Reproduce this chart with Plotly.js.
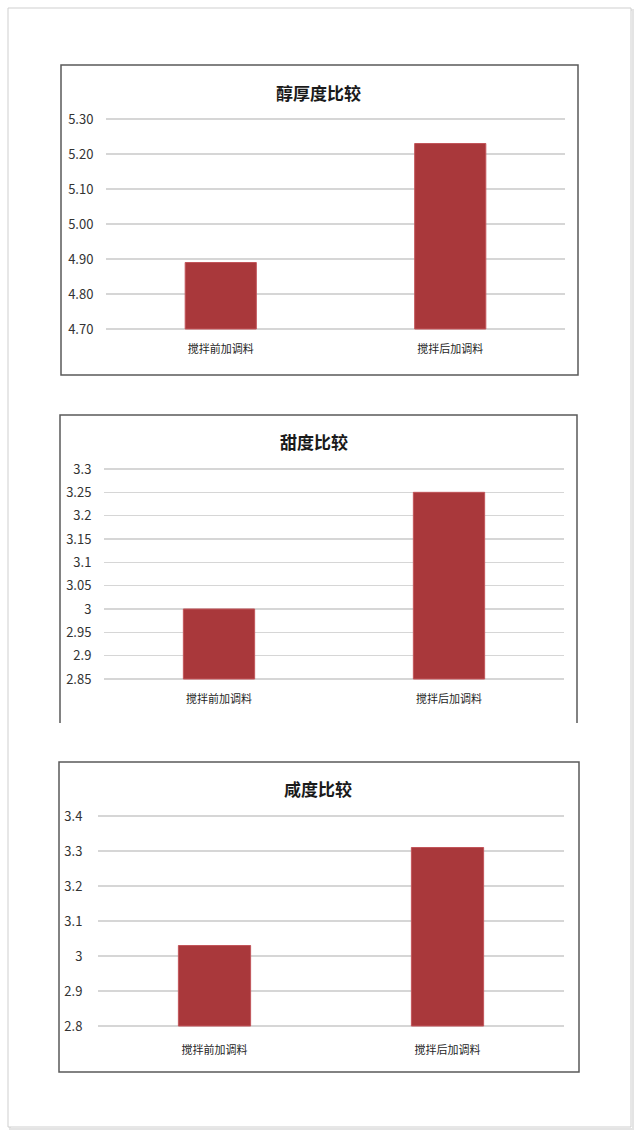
<!DOCTYPE html>
<html>
<head>
<meta charset="utf-8">
<script src="https://cdn.plot.ly/plotly-3.0.1.min.js"></script>
<style>
  html, body { margin: 0; padding: 0; background: #fff; }
  #chart { width: 640px; height: 1136px; }
</style>
</head>
<body>
<div id="chart"></div>
<script>
// Data
const categories = ['搅拌前加调料', '搅拌后加调料'];

const titles = ['醇厚度比较', '甜度比较', '咸度比较'];

const bodyValues = [4.89, 5.23];     // 醇厚度
const sweetValues = [3.00, 3.25];    // 甜度
const saltValues = [3.03, 3.31];     // 咸度

const bodyTicks = [4.70, 4.80, 4.90, 5.00, 5.10, 5.20, 5.30];
const sweetTicks = [2.85, 2.9, 2.95, 3, 3.05, 3.1, 3.15, 3.2, 3.25, 3.3];
const saltTicks = [2.8, 2.9, 3, 3.1, 3.2, 3.3, 3.4];

const bodyTickText = bodyTicks.map(v => v.toFixed(2));

// page geometry helpers (pixels -> paper fraction)
const W = 640, H = 1136;
const px = x => x / W;
const py = y => 1 - y / H;

const barColor = '#a9383b';
const gridColor = '#d6d6d6';
const font = 'Noto Sans CJK SC, Noto Sans, sans-serif';

// the range gets a little padding so the top and bottom gridlines are not
// dropped at the plot edge; the domain is widened by the same amount
const PAD = 0.025;

// bars start at the lowest tick (axis minimum), as in the original
function barTrace(values, ticks, n) {
    const base = ticks[0];
    return {
        type: 'bar',
        x: categories,
        y: values.map(v => v - base),
        base: base,
        customdata: values,
        xaxis: 'x' + (n === 1 ? '' : n),
        yaxis: 'y' + (n === 1 ? '' : n),
        marker: {color: barColor, line: {color: '#c2555a', width: 1}},
        hovertemplate: '%{x}: %{customdata}<extra></extra>'
    };
}

const data = [
    barTrace(bodyValues, bodyTicks, 1),
    barTrace(sweetValues, sweetTicks, 2),
    barTrace(saltValues, saltTicks, 3)
];

function xAxis(domain, anchor, ticklen) {
    return {
        domain: domain,
        anchor: anchor,
        type: 'category',
        showgrid: false,
        showline: false,
        zeroline: false,
        ticks: 'outside',
        ticklen: ticklen,
        tickcolor: 'rgba(0,0,0,0)',
        tickfont: {family: font, size: 11, color: '#262626'},
        fixedrange: true
    };
}

// top / bottom are the pixel rows of the highest and lowest tick
function yAxis(top, bottom, anchor, ticks, ticktext, ticklen) {
    const lo = ticks[0], hi = ticks[ticks.length - 1];
    const span = hi - lo, padPx = (bottom - top) * PAD;
    const ax = {
        domain: [py(bottom + padPx), py(top - padPx)],
        anchor: anchor,
        range: [lo - span * PAD, hi + span * PAD],
        tickmode: 'array',
        tickvals: ticks,
        showgrid: true,
        gridcolor: gridColor,
        gridwidth: 1.5,
        showline: false,
        zeroline: false,
        ticks: 'outside',
        ticklen: ticklen,
        tickcolor: 'rgba(0,0,0,0)',
        tickfont: {family: font, size: 13, color: '#333333'},
        fixedrange: true
    };
    if (ticktext) ax.ticktext = ticktext;
    return ax;
}

const layout = {
    width: W,
    height: H,
    margin: {l: 0, r: 0, t: 0, b: 0},
    paper_bgcolor: 'white',
    plot_bgcolor: 'white',
    showlegend: false,
    bargap: 0.69,
    font: {family: font},

    xaxis: xAxis([px(106), px(565)], 'y', 5),
    yaxis: yAxis(119, 329, 'x', bodyTicks, bodyTickText, 9),

    xaxis2: xAxis([px(104), px(564)], 'y2', 5),
    yaxis2: yAxis(469, 679, 'x2', sweetTicks, null, 9),

    xaxis3: xAxis([px(98), px(564)], 'y3', 9),
    yaxis3: yAxis(816, 1026, 'x3', saltTicks, null, 12),

    annotations: [
        {text: titles[0], x: px(318), y: py(92)},
        {text: titles[1], x: px(314), y: py(441)},
        {text: titles[2], x: px(318), y: py(788)}
    ].map(a => Object.assign(a, {
        xref: 'paper', yref: 'paper',
        xanchor: 'center', yanchor: 'middle',
        showarrow: false,
        font: {family: font, size: 17, color: '#1a1a1a', weight: 'bold'}
    })),

    shapes: [
        // outer photo frame with soft shadow
        {type: 'rect', xref: 'paper', yref: 'paper',
         x0: px(10), x1: px(633), y0: py(1129), y1: py(10),
         line: {color: '#e4e4e4', width: 2}, layer: 'below'},
        {type: 'rect', xref: 'paper', yref: 'paper',
         x0: px(8), x1: px(631), y0: py(1127), y1: py(8),
         line: {color: '#cfcfcf', width: 1}, fillcolor: 'white', layer: 'below'},
        // chart borders
        {type: 'rect', xref: 'paper', yref: 'paper',
         x0: px(61), x1: px(578), y0: py(375), y1: py(65),
         line: {color: '#5a5a5a', width: 1.5}},
        {type: 'path', xref: 'paper', yref: 'paper',
         path: 'M ' + px(60) + ',' + py(723) + ' L ' + px(60) + ',' + py(415) +
               ' L ' + px(577) + ',' + py(415) + ' L ' + px(577) + ',' + py(723),
         line: {color: '#5a5a5a', width: 1.5}},
        {type: 'rect', xref: 'paper', yref: 'paper',
         x0: px(59), x1: px(579), y0: py(1072), y1: py(762),
         line: {color: '#5a5a5a', width: 1.5}}
    ]
};

Plotly.newPlot('chart', data, layout, {displayModeBar: false, staticPlot: true});
</script>
</body>
</html>
